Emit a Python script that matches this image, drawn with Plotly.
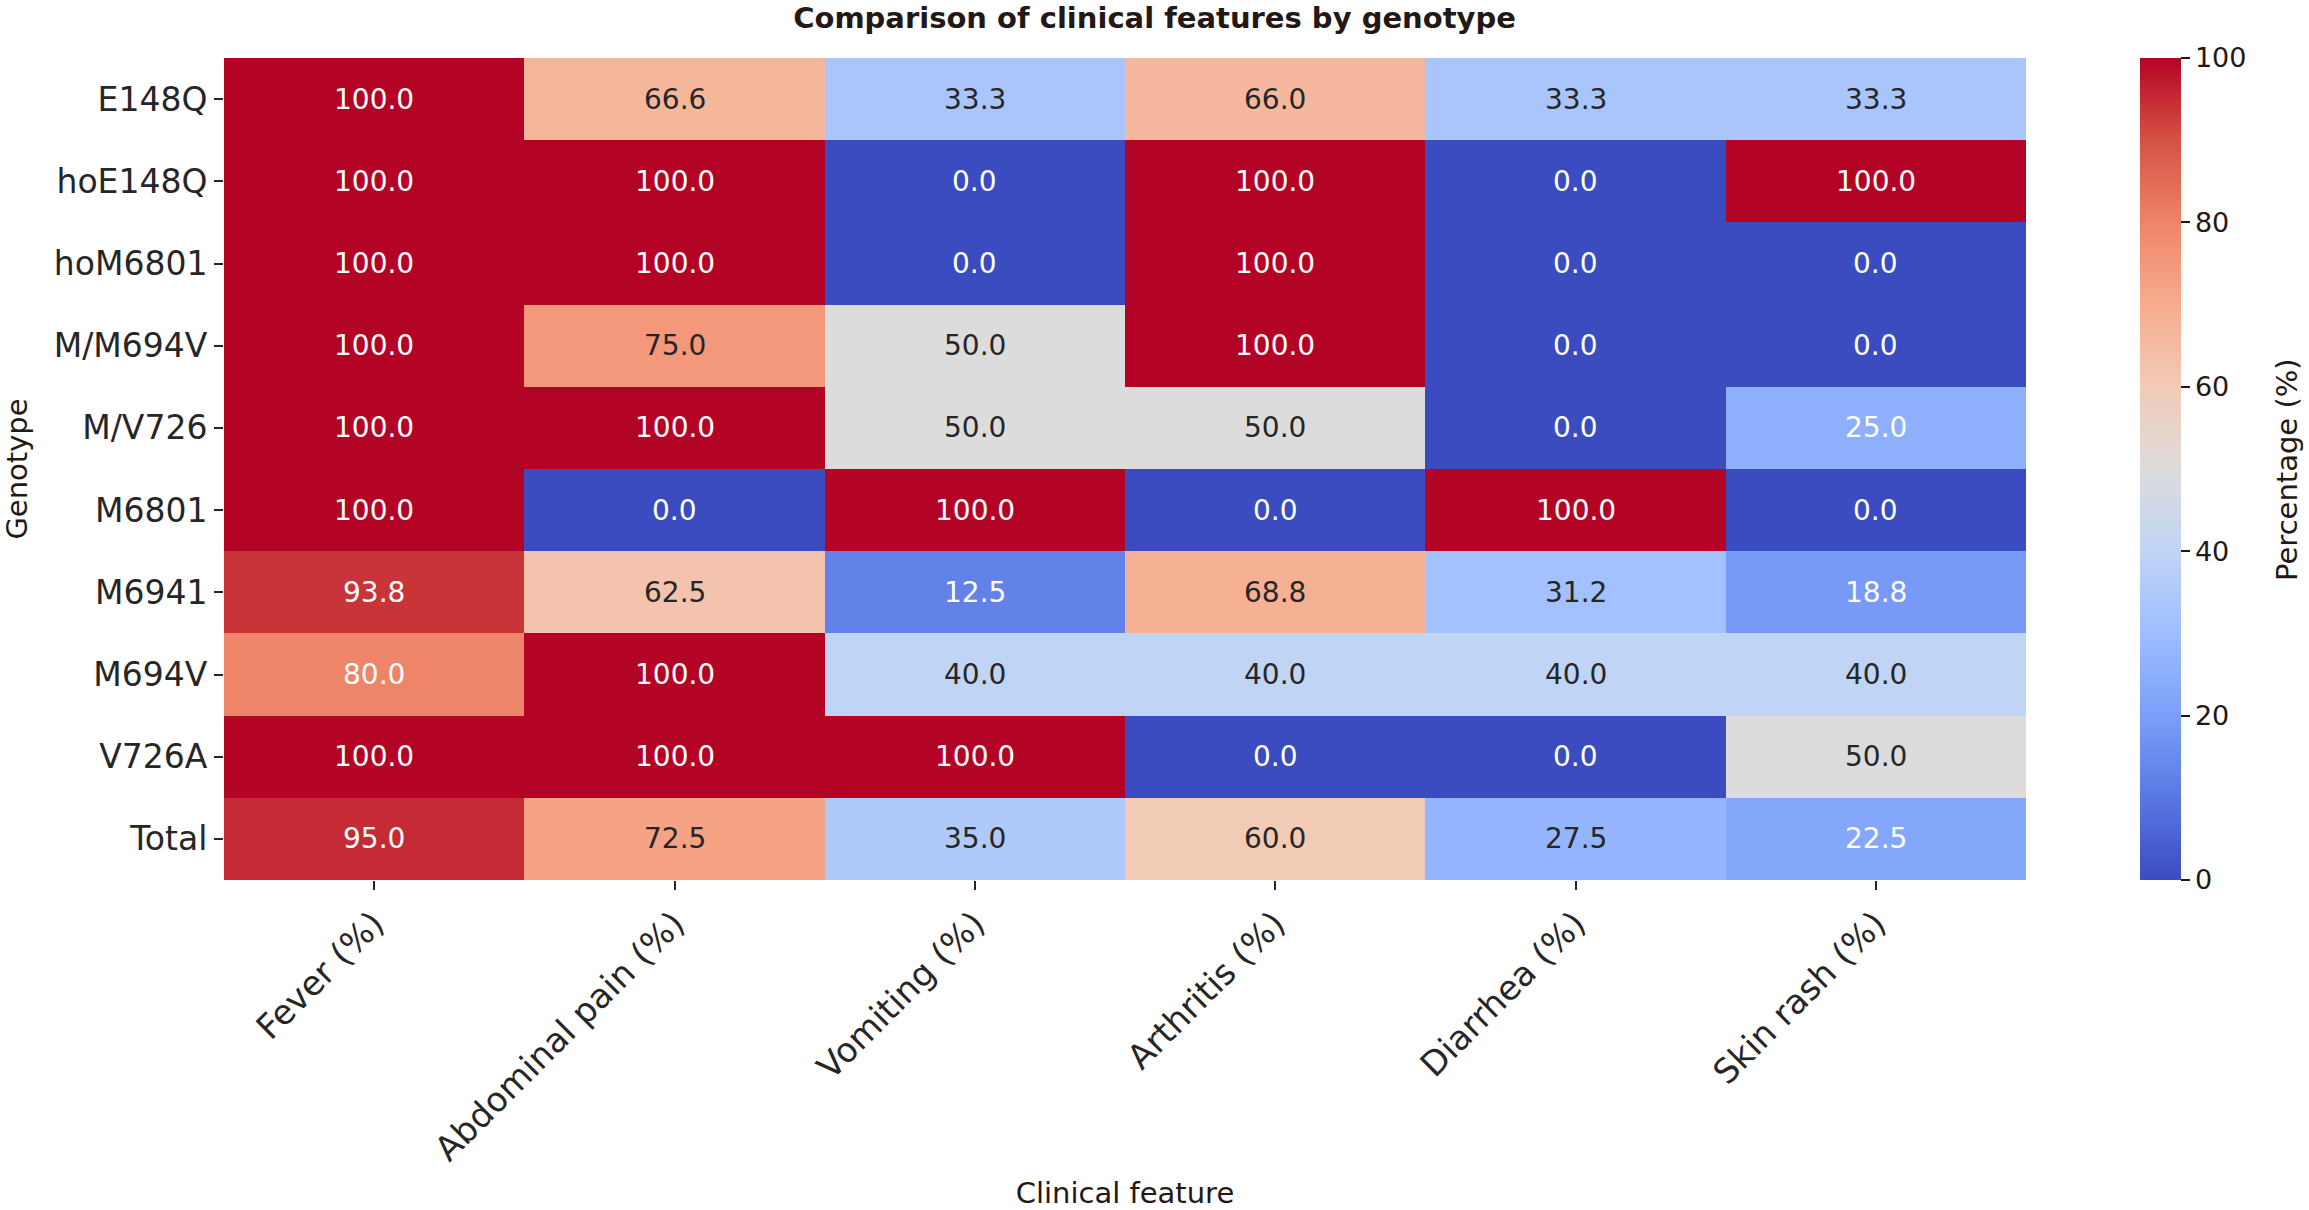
import plotly.graph_objects as go

genotypes = ["E148Q", "hoE148Q", "hoM6801", "M/M694V", "M/V726", "M6801",
             "M6941", "M694V", "V726A", "Total"]
features = ["Fever (%)", "Abdominal pain (%)", "Vomiting (%)", "Arthritis (%)",
            "Diarrhea (%)", "Skin rash (%)"]

fever = [100.0, 100.0, 100.0, 100.0, 100.0, 100.0, 93.8, 80.0, 100.0, 95.0]
abdominal = [66.6, 100.0, 100.0, 75.0, 100.0, 0.0, 62.5, 100.0, 100.0, 72.5]
vomiting = [33.3, 0.0, 0.0, 50.0, 50.0, 100.0, 12.5, 40.0, 100.0, 35.0]
arthritis = [66.0, 100.0, 100.0, 100.0, 50.0, 0.0, 68.8, 40.0, 0.0, 60.0]
diarrhea = [33.3, 0.0, 0.0, 0.0, 0.0, 100.0, 31.2, 40.0, 0.0, 27.5]
skin_rash = [33.3, 100.0, 0.0, 0.0, 25.0, 0.0, 18.8, 40.0, 50.0, 22.5]

colorbar_ticks = [0, 20, 40, 60, 80, 100]

columns = [fever, abdominal, vomiting, arthritis, diarrhea, skin_rash]
z = [[col[i] for col in columns] for i in range(len(genotypes))]

coolwarm = [
    [0.0, "#3b4cc0"], [0.1, "#5977e3"], [0.2, "#7b9ff9"], [0.3, "#9ebeff"],
    [0.4, "#c0d4f5"], [0.5, "#dddcdc"], [0.6, "#f2cbb7"], [0.7, "#f7ac8e"],
    [0.8, "#ee8468"], [0.9, "#d65244"], [1.0, "#b40426"],
]

FONT = "DejaVu Sans"
TXT = "#231815"
TICK = "#262626"

fig = go.Figure()
fig.add_trace(go.Heatmap(
    z=z, x=features, y=genotypes,
    colorscale=coolwarm, zmin=0, zmax=100,
    hoverongaps=False,
    colorbar=dict(
        x=1.0633, xanchor="left", xref="paper", xpad=0, ypad=0,
        y=0.5, yanchor="middle", len=1, lenmode="fraction",
        thickness=41, thicknessmode="pixels", outlinewidth=0,
        tickvals=colorbar_ticks, ticks="outside", ticklen=9, tickwidth=1.5,
        tickcolor=TXT,
        tickfont=dict(family=FONT, size=27, color=TXT),
    ),
))

annotations = []
for i, g in enumerate(genotypes):
    for j, f in enumerate(features):
        v = z[i][j]
        color = "white" if (v <= 25 or v >= 80) else TICK
        annotations.append(dict(
            x=f, y=g, xref="x", yref="y", text=f"{v:.1f}", showarrow=False,
            font=dict(family=FONT, size=28, color=color),
        ))

# colorbar title placed further right, as in the reference
annotations.append(dict(
    text="Percentage (%)", x=1.1448, y=0.5, xref="paper", yref="paper",
    xanchor="center", yanchor="middle", textangle=-90, showarrow=False,
    font=dict(family=FONT, size=29, color=TXT),
))

fig.update_layout(
    width=2309, height=1210,
    margin=dict(l=224, r=283, t=58, b=330, pad=0),
    paper_bgcolor="white", plot_bgcolor="white",
    font=dict(family=FONT, color=TICK),
    title=dict(text="<b>Comparison of clinical features by genotype</b>",
               x=0.5, xref="container", xanchor="center",
               y=1 - 18 / 1210, yref="container", yanchor="middle",
               font=dict(family=FONT, size=29, color=TXT)),
    annotations=annotations,
    xaxis=dict(
        tickangle=-45, ticks="outside", ticklen=9, tickwidth=1.5, tickcolor=TICK,
        tickfont=dict(family=FONT, size=34, color=TICK),
        showgrid=False, zeroline=False, showline=False, automargin=False,
        title=dict(text="Clinical feature", standoff=24,
                   font=dict(family=FONT, size=29, color=TXT)),
    ),
    yaxis=dict(
        autorange="reversed", ticks="outside", ticklen=9, tickwidth=1.5,
        tickcolor=TICK, tickfont=dict(family=FONT, size=33, color=TICK),
        showgrid=False, zeroline=False, showline=False, automargin=False,
        title=dict(text="Genotype", standoff=36,
                   font=dict(family=FONT, size=29, color=TXT)),
    ),
)

fig.write_html("out.html", config={"displayModeBar": False},
               post_script="document.body.style.margin='0';document.body.style.overflow='hidden';")
